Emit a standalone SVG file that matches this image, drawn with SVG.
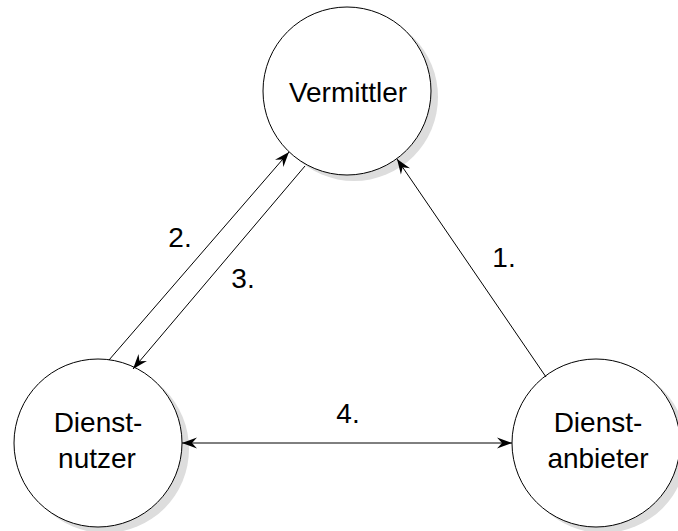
<svg xmlns="http://www.w3.org/2000/svg" width="678" height="531" viewBox="0 0 678 531">
  <style>
    .shadow { fill: #dddddd; stroke: none; }
    .node { fill: #ffffff; stroke: #000000; stroke-width: 1; }
    .label { font-family: "Liberation Sans", Arial, sans-serif; font-size: 28px; fill: #000000; text-anchor: middle; }
    .edge { fill: none; stroke: #000000; stroke-width: 1; }
  </style>
  <defs>
    <marker id="arrow" markerUnits="userSpaceOnUse" markerWidth="18" markerHeight="14" viewBox="-16 -7 18 14" refX="0" refY="0" orient="auto-start-reverse">
      <path d="M0,0 L-15,-5.5 L-10,0 L-15,5.5 Z" fill="#000000"/>
    </marker>
  </defs>
  <rect width="678" height="531" fill="#ffffff"/>

  <g id="vermittler">
    <circle class="shadow" cx="354" cy="97" r="84"/>
    <circle class="node" cx="347" cy="91" r="84"/>
    <text class="label" x="348" y="102">Vermittler</text>
  </g>

  <g id="dienstnutzer">
    <circle class="shadow" cx="105" cy="449" r="84"/>
    <circle class="node" cx="98" cy="443" r="84"/>
    <text class="label" x="98" y="432">Dienst-</text>
    <text class="label" x="97" y="468">nutzer</text>
  </g>

  <g id="dienstanbieter">
    <circle class="shadow" cx="603" cy="449" r="84"/>
    <circle class="node" cx="596" cy="443" r="84"/>
    <text class="label" x="598" y="432">Dienst-</text>
    <text class="label" x="598" y="468">anbieter</text>
  </g>

  <g id="connectors">
    <line class="edge" x1="546" y1="377" x2="397" y2="159" marker-end="url(#arrow)"/>
    <line class="edge" x1="109" y1="360" x2="289" y2="152" marker-end="url(#arrow)"/>
    <line class="edge" x1="305" y1="166" x2="133" y2="369" marker-end="url(#arrow)"/>
    <line class="edge" x1="182" y1="443" x2="512" y2="443" marker-start="url(#arrow)" marker-end="url(#arrow)"/>
    <text class="label" x="504" y="267">1.</text>
    <text class="label" x="180" y="247">2.</text>
    <text class="label" x="243" y="288">3.</text>
    <text class="label" x="348" y="423">4.</text>
  </g>
</svg>
